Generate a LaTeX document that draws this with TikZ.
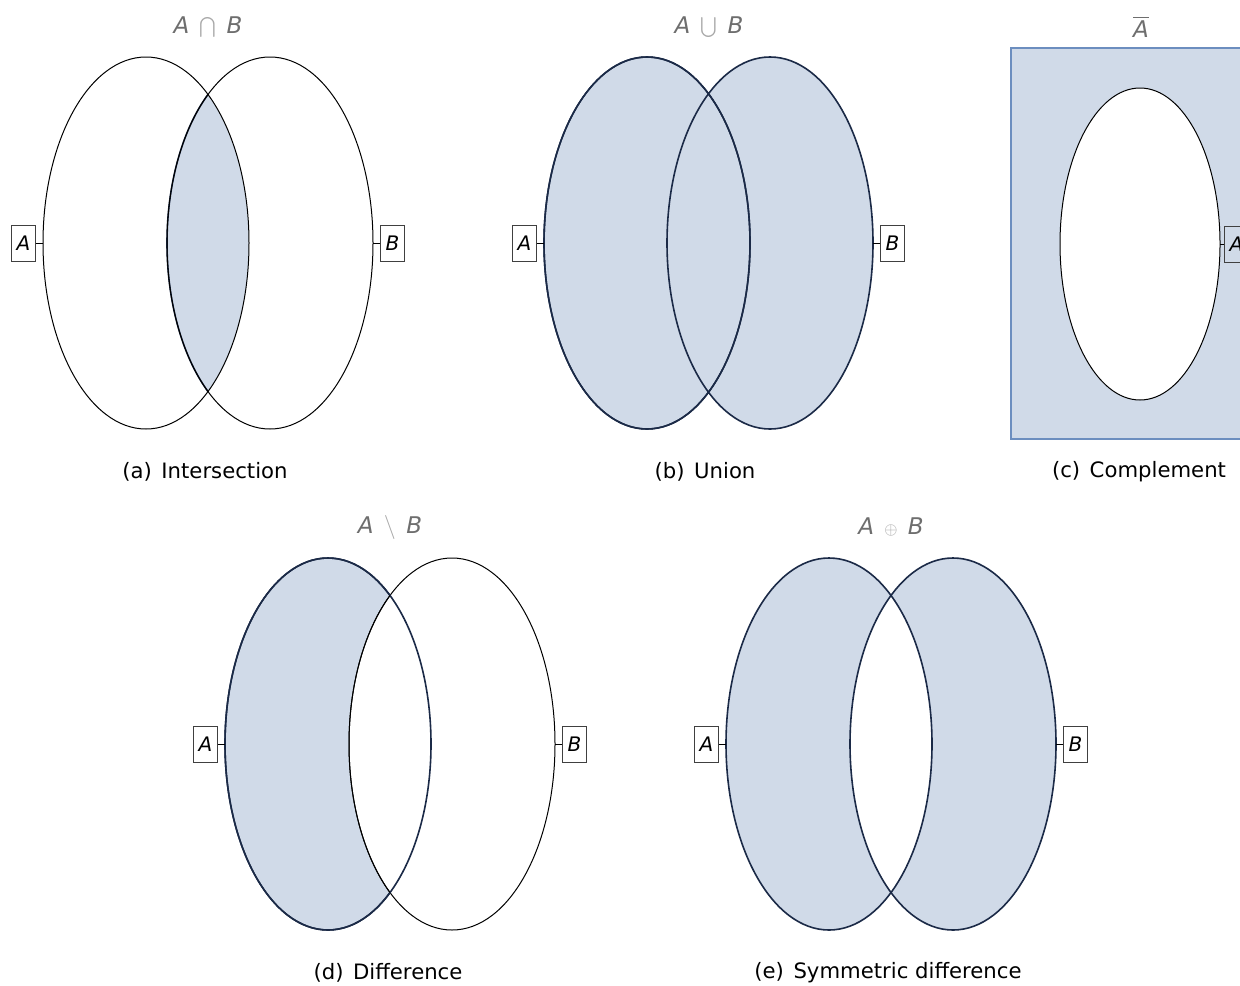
\documentclass[tikz,border=0pt]{standalone}
\usepackage{fontspec}
\setmainfont{DejaVu Sans}
\usetikzlibrary{positioning}
\definecolor{setfillc}{HTML}{D0DAE8}
\definecolor{setedge}{HTML}{1B2A47}
\definecolor{frameedge}{HTML}{6C8EBF}
\definecolor{titlegray}{HTML}{6E6E6E}
\definecolor{opgray}{HTML}{A8A8A8}
\tikzset{
  setline/.style={draw=black, line width=0.5pt},
  setfill/.style={fill=setfillc, draw=setedge, line width=0.8pt},
  venn/.style={x radius=103, y radius=186},
  setlabel/.style={draw=black!75, line width=0.5pt, inner sep=0pt, minimum width=12pt,
    minimum height=18pt, font=\itshape\fontsize{10}{12}\selectfont},
  titletext/.style={text=titlegray, font=\itshape\fontsize{11.5}{13}\selectfont},
  captext/.style={font=\fontsize{10.6}{12}\selectfont},
}
\newcommand{\setop}[1]{\hspace{0.45em}{\color{opgray}$#1$}\hspace{0.45em}}
\newcommand{\captag}[2]{(#1)\hspace{0.45em}#2}
\begin{document}
\begin{tikzpicture}[x=0.5pt, y=-0.5pt]
  \useasboundingbox (0,0) rectangle (1240,985);
  \clip (0,0) rectangle (1240,985);

  % (a) intersection
  \begin{scope}
    \clip (146,243) ellipse [venn];
    \path[setfill] (270,243) ellipse [venn];
  \end{scope}
  \draw[setline] (146,243) ellipse [venn] (270,243) ellipse [venn];
  \coordinate (aAw) at (43,243);
  \coordinate (aBe) at (373,243);
  \node[setlabel, left=3.5pt of aAw] (aA) {A};
  \node[setlabel, right=3.5pt of aBe] (aB) {B};
  \draw[setline] (aA) -- (aAw);
  \draw[setline] (aB) -- (aBe);
  \node[titletext] (aTitle) at (208,27) {A\setop{\bigcap}B};
  \node[captext] (aCap) at (205,472) {\captag{a}{Intersection}};

  % (b) union
  \path[setfill] (647,243) ellipse [venn] (770,243) ellipse [venn];
  \path[setfill, fill=none] (647,243) ellipse [venn];
  \coordinate (bAw) at (544,243);
  \coordinate (bBe) at (873,243);
  \node[setlabel, left=3.5pt of bAw] (bA) {A};
  \node[setlabel, right=3.5pt of bBe] (bB) {B};
  \draw[setline] (bA) -- (bAw);
  \draw[setline] (bB) -- (bBe);
  \node[titletext] (bTitle) at (709,27) {A\setop{\bigcup}B};
  \node[captext] (bCap) at (705,472) {\captag{b}{Union}};

  % (c) complement
  \draw[fill=setfillc, draw=frameedge, line width=0.75pt] (1011,48) rectangle (1269,439);
  \draw[setline, fill=white] (1140,244) ellipse [x radius=80, y radius=156];
  \coordinate (cAe) at (1220,244);
  \node[setlabel, right=2pt of cAe] (cA) {A};
  \draw[setline] (cA) -- (cAe);
  \node[titletext] (cTitle) at (1141,27) {$\overline{\mbox{\itshape A}}$};
  \node[captext] (cCap) at (1139,472) {\captag{c}{Complement}};

  % (d) difference
  \path[setfill] (328,744) ellipse [venn];
  \draw[setline, fill=white] (452,744) ellipse [venn];
  \path[setfill, fill=none] (328,744) ellipse [venn];
  \begin{scope}
    \clip (328,744) ellipse [venn];
    \draw[setline] (452,744) ellipse [venn];
  \end{scope}
  \coordinate (dAw) at (225,744);
  \coordinate (dBe) at (555,744);
  \node[setlabel, left=3.5pt of dAw] (dA) {A};
  \node[setlabel, right=3.5pt of dBe] (dB) {B};
  \draw[setline] (dA) -- (dAw);
  \draw[setline] (dB) -- (dBe);
  \node[titletext] (dTitle) at (390,527) {A\setop{\setminus}B};
  \node[captext] (dCap) at (388,973) {\captag{d}{Difference}};

  % (e) symmetric difference
  \path[setfill, even odd rule] (829,744) ellipse [venn] (953,744) ellipse [venn];
  \coordinate (eAw) at (726,744);
  \coordinate (eBe) at (1056,744);
  \node[setlabel, left=3.5pt of eAw] (eA) {A};
  \node[setlabel, right=3.5pt of eBe] (eB) {B};
  \draw[setline] (eA) -- (eAw);
  \draw[setline] (eB) -- (eBe);
  \node[titletext] (eTitle) at (891,527) {A\setop{\scriptstyle\oplus}B};
  \node[captext] (eCap) at (888,973) {\captag{e}{Symmetric difference}};
\end{tikzpicture}
\end{document}
